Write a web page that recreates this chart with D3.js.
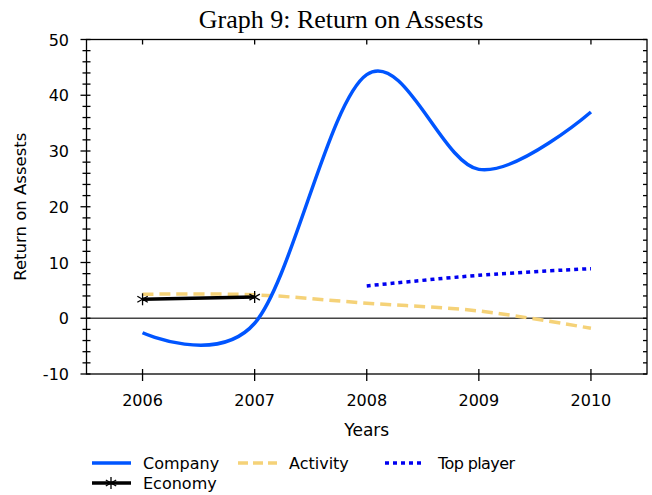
<!DOCTYPE html>
<html>
<head>
<meta charset="utf-8">
<script src="https://cdnjs.cloudflare.com/ajax/libs/d3/7.8.5/d3.min.js"></script>
<style>
  body { margin: 0; background: #fff; }
  text { font-family: "DejaVu Sans", "Liberation Sans", sans-serif; }
</style>
</head>
<body>
<svg id="chart" width="652" height="495"></svg>
<script>
let years = [2006, 2007, 2008, 2009, 2010];
let company = [-2.6, -0.9, 43.7, 26.7, 37.0];
let activity = [4.3, 4.2, 2.7, 1.3, -1.8];
let topYears = [2008, 2009, 2010];
let topPlayer = [5.8, 7.7, 8.9];
let econYears = [2006, 2007];
let economy = [3.4, 3.8];
let yMajor = [-10, 0, 10, 20, 30, 40, 50];

let svg = d3.select('#chart');
let pLeft = 86.5, pRight = 647, pTop = 39.5, pBottom = 374;

let x = d3.scaleLinear().domain([2005.5, 2010.5]).range([pLeft, pRight]);
let y = d3.scaleLinear().domain([-10, 50]).range([pBottom, pTop]);

// title
svg.append("text")
   .attr("x", 341).attr("y", 28)
   .attr("text-anchor", "middle")
   .style("font-family", "'Liberation Serif', 'DejaVu Serif', serif")
   .style("font-size", "26px")
   .text("Graph 9: Return on Assests")

// frame
svg.append("rect")
   .attr("x", pLeft).attr("y", pTop)
   .attr("width", pRight - pLeft).attr("height", pBottom - pTop)
   .attr("fill", "none").attr("stroke", "#000").attr("stroke-width", 1.3)

// zero line
svg.append("line")
   .attr("x1", pLeft).attr("x2", pRight)
   .attr("y1", y(0)).attr("y2", y(0))
   .attr("stroke", "#444").attr("stroke-width", 1.3)

// y ticks: minor every 2, crossing on left, inward on right
let yMinor = d3.range(-10, 50.1, 2);
let yt = svg.append("g").attr("stroke", "#000").attr("stroke-width", 1.3)
yt.selectAll(".ly").data(yMinor).enter().append("line")
  .attr("x1", d => yMajor.includes(d) ? pLeft - 6 : pLeft - 4)
  .attr("x2", pLeft + 4)
  .attr("y1", d => y(d)).attr("y2", d => y(d))
yt.selectAll(".ry").data(yMinor).enter().append("line")
  .attr("x1", pRight - 4).attr("x2", pRight)
  .attr("y1", d => y(d)).attr("y2", d => y(d))

// x ticks: crossing on bottom, inward on top
yt.selectAll(".bx").data(years).enter().append("line")
  .attr("x1", d => x(d)).attr("x2", d => x(d))
  .attr("y1", pBottom - 5).attr("y2", pBottom + 7)
yt.selectAll(".tx").data(years).enter().append("line")
  .attr("x1", d => x(d)).attr("x2", d => x(d))
  .attr("y1", pTop).attr("y2", pTop + 5)

svg.selectAll(".ylab").data(yMajor).enter().append("text")
   .attr("x", 69).attr("y", d => y(d) + 6)
   .attr("text-anchor", "end")
   .style("font-size", "16px")
   .text(d => d)

svg.selectAll(".xlab").data(years).enter().append("text")
   .attr("x", d => x(d)).attr("y", 406)
   .attr("text-anchor", "middle")
   .style("font-size", "16px")
   .text(d => d)

svg.append("text")
   .attr("x", x(2008)).attr("y", 436)
   .attr("text-anchor", "middle")
   .style("font-size", "17px")
   .text("Years")

svg.append("text")
   .attr("transform", "translate(26," + y(20) + ") rotate(-90)")
   .attr("text-anchor", "middle")
   .style("font-size", "16.5px")
   .text("Return on Assests")

// series
let line = d3.line().x(d => x(d[0])).y(d => y(d[1]))

svg.append("path")
   .datum(d3.zip(years, activity))
   .attr("d", line.curve(d3.curveCardinal))
   .attr("fill", "none").attr("stroke", "#F5D278")
   .attr("stroke-width", 3.5).attr("stroke-dasharray", "11,6")

svg.append("path")
   .datum(d3.zip(topYears, topPlayer))
   .attr("d", line.curve(d3.curveCardinal))
   .attr("fill", "none").attr("stroke", "#0000F0")
   .attr("stroke-width", 3.5).attr("stroke-dasharray", "4,4")

svg.append("path")
   .datum(d3.zip(years, company))
   .attr("d", line.curve(d3.curveCardinal))
   .attr("fill", "none").attr("stroke", "#0055FF")
   .attr("stroke-width", 3.5)

svg.append("path")
   .datum(d3.zip(econYears, economy))
   .attr("d", line.curve(d3.curveLinear))
   .attr("fill", "none").attr("stroke", "#000")
   .attr("stroke-width", 3.5)

function star(g, cx, cy, r) {
  [0, 60, 120].forEach(a => {
    let dx = r * Math.sin(a * Math.PI / 180), dy = r * Math.cos(a * Math.PI / 180);
    g.append("line")
     .attr("x1", cx - dx).attr("y1", cy - dy)
     .attr("x2", cx + dx).attr("y2", cy + dy)
     .attr("stroke", "#000").attr("stroke-width", 1.3)
  })
}
let marks = svg.append("g")
d3.zip(econYears, economy).forEach(d => star(marks, x(d[0]), y(d[1]), 6))

// legend
let lg = svg.append("g")
let legendRows = [
  {name: "Company", x: 92, y: 463, color: "#0055FF", dash: null},
  {name: "Activity", x: 238, y: 463, color: "#F5D278", dash: "10,5"},
  {name: "Top player", x: 385, y: 463, color: "#0000F0", dash: "4,4"},
  {name: "Economy", x: 92, y: 483, color: "#000", dash: null}
]
legendRows.forEach(d => {
  lg.append("line")
    .attr("x1", d.x).attr("x2", d.x + 39)
    .attr("y1", d.y).attr("y2", d.y)
    .attr("stroke", d.color).attr("stroke-width", 3.5)
    .attr("stroke-dasharray", d.dash)
  lg.append("text")
    .attr("x", d.name == "Top player" ? d.x + 53 : d.x + 51).attr("y", d.y + 6)
    .style("font-size", "16px")
    .style("letter-spacing", d.name == "Top player" ? "-0.6px" : null)
    .text(d.name)
})
star(lg, 111, 483, 6)
</script>
</body>
</html>
